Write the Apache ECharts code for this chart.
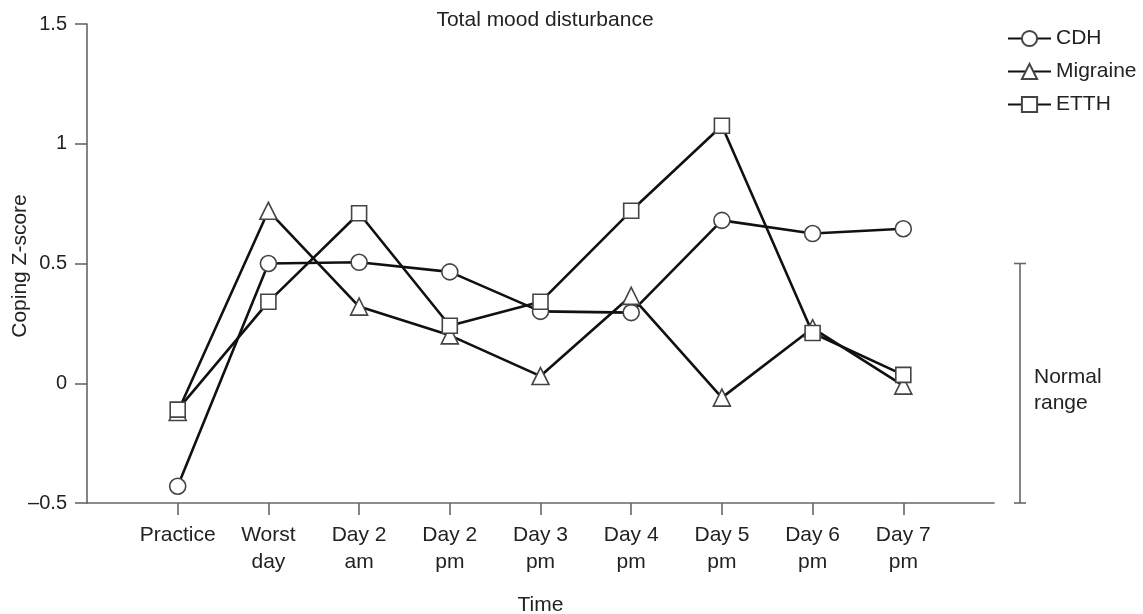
<!DOCTYPE html>
<html>
<head>
<meta charset="utf-8">
<title>Total mood disturbance</title>
<script src="https://cdn.jsdelivr.net/npm/echarts@6/dist/echarts.min.js"></script>
<style>
  html, body { margin: 0; padding: 0; background: #fff; }
  #chart { width: 1143px; height: 614px; }
</style>
</head>
<body>
<div id="chart"></div>
<script>
// Time points (with line breaks as printed under the axis)
const categories = ['Practice', 'Worst\nday', 'Day 2\nam', 'Day 2\npm', 'Day 3\npm',
                    'Day 4\npm', 'Day 5\npm', 'Day 6\npm', 'Day 7\npm'];

// Coping Z-scores per headache group
const cdh      = [-0.43, 0.50, 0.505, 0.465, 0.30, 0.295, 0.68, 0.625, 0.645];
const migraine = [-0.12, 0.72, 0.32, 0.20, 0.03, 0.365, -0.06, 0.23, -0.01];
const etth     = [-0.11, 0.34, 0.71, 0.24, 0.34, 0.72, 1.075, 0.21, 0.035];

// Y axis range and the normal band shown at the right
const yTicks = [-0.5, 0, 0.5, 1, 1.5];
const normalRange = [-0.5, 0.5];

const FONT = '"Liberation Sans", Arial, Helvetica, sans-serif';
const FS = 21;
const TEXT = '#222';
const AXIS = '#666';

// Axis slots: one empty slot either side of the nine time points
const axisData = [''].concat(categories, ['']);
const toPoints = vals => vals.map((v, i) => [i + 1, v]);

const chart = echarts.init(document.getElementById('chart'), null, { renderer: 'canvas' });

function lineSeries(name, symbol, size, vals) {
  return {
    name, type: 'line', data: toPoints(vals),
    symbol, symbolSize: size, showAllSymbol: true,
    lineStyle: { color: '#111', width: 2.6 },
    itemStyle: { color: '#fff', borderColor: '#444', borderWidth: 1.6 },
    emphasis: { disabled: true },
    animation: false, z: 3
  };
}

chart.setOption({
  animation: false,
  textStyle: { fontFamily: FONT, color: TEXT },
  title: {
    text: 'Total mood disturbance',
    left: 540, top: 5, textAlign: 'center',
    textStyle: { fontFamily: FONT, fontSize: FS, fontWeight: 'normal', color: TEXT }
  },
  legend: {
    orient: 'vertical', left: 1002, top: 23,
    itemWidth: 43, itemHeight: 19, itemGap: 12,
    textStyle: { fontFamily: FONT, fontSize: FS, color: TEXT },
    data: ['CDH', 'Migraine', 'ETTH']
  },
  grid: {
    left: 87, right: 149, top: 24, bottom: 111,
    containLabel: false, outerBoundsMode: 'none'
  },
  xAxis: {
    type: 'category', data: axisData, boundaryGap: false,
    name: 'Time', nameLocation: 'middle', nameGap: 92,
    nameTextStyle: { fontFamily: FONT, fontSize: FS, color: TEXT },
    axisLine: { onZero: false, lineStyle: { color: AXIS, width: 1.6 } },
    axisTick: {
      length: 12, lineStyle: { color: AXIS, width: 1.6 },
      interval: (i) => i > 0 && i < axisData.length - 1
    },
    axisLabel: {
      interval: 0, margin: 19, fontFamily: FONT, fontSize: FS, color: TEXT,
      lineHeight: 27
    },
    splitLine: { show: false }
  },
  yAxis: {
    type: 'value', min: yTicks[0], max: yTicks[yTicks.length - 1], interval: 0.5,
    axisLine: { show: true, lineStyle: { color: AXIS, width: 1.6 } },
    axisTick: { show: true, length: 12, lineStyle: { color: AXIS, width: 1.6 } },
    axisLabel: {
      margin: 20, fontFamily: FONT, fontSize: 20, color: TEXT,
      formatter: v => (v < 0 ? '\u2013' + Math.abs(v) : String(v))
    },
    splitLine: { show: false }
  },
  series: [
    lineSeries('CDH', 'circle', 16, cdh),
    lineSeries('Migraine', 'triangle', 17, migraine),
    lineSeries('ETTH', 'rect', 15, etth)
  ]
});

// Y axis title and the "Normal range" bracket, placed through the axis scale
const yHi = chart.convertToPixel({ yAxisIndex: 0 }, normalRange[1]);
const yLo = chart.convertToPixel({ yAxisIndex: 0 }, normalRange[0]);
const bx = 1020;
chart.setOption({
  graphic: [
    {
      type: 'text', x: 20, y: 266, rotation: Math.PI / 2,
      style: {
        text: 'Coping Z-score', font: FS + 'px ' + FONT, fill: TEXT,
        textAlign: 'center', textVerticalAlign: 'middle'
      }
    },
    {
      type: 'group', children: [
        { type: 'line', shape: { x1: bx, y1: yHi, x2: bx, y2: yLo }, style: { stroke: AXIS, lineWidth: 1.6 } },
        { type: 'line', shape: { x1: bx - 6, y1: yHi, x2: bx + 6, y2: yHi }, style: { stroke: AXIS, lineWidth: 1.6 } },
        { type: 'line', shape: { x1: bx - 6, y1: yLo, x2: bx + 6, y2: yLo }, style: { stroke: AXIS, lineWidth: 1.6 } }
      ]
    },
    {
      type: 'text', x: 1034, y: (yHi + yLo) / 2 + 7,
      style: {
        text: 'Normal\nrange', font: FS + 'px ' + FONT, fill: TEXT, lineHeight: 26,
        textAlign: 'left', textVerticalAlign: 'middle'
      }
    }
  ]
});
</script>
</body>
</html>
